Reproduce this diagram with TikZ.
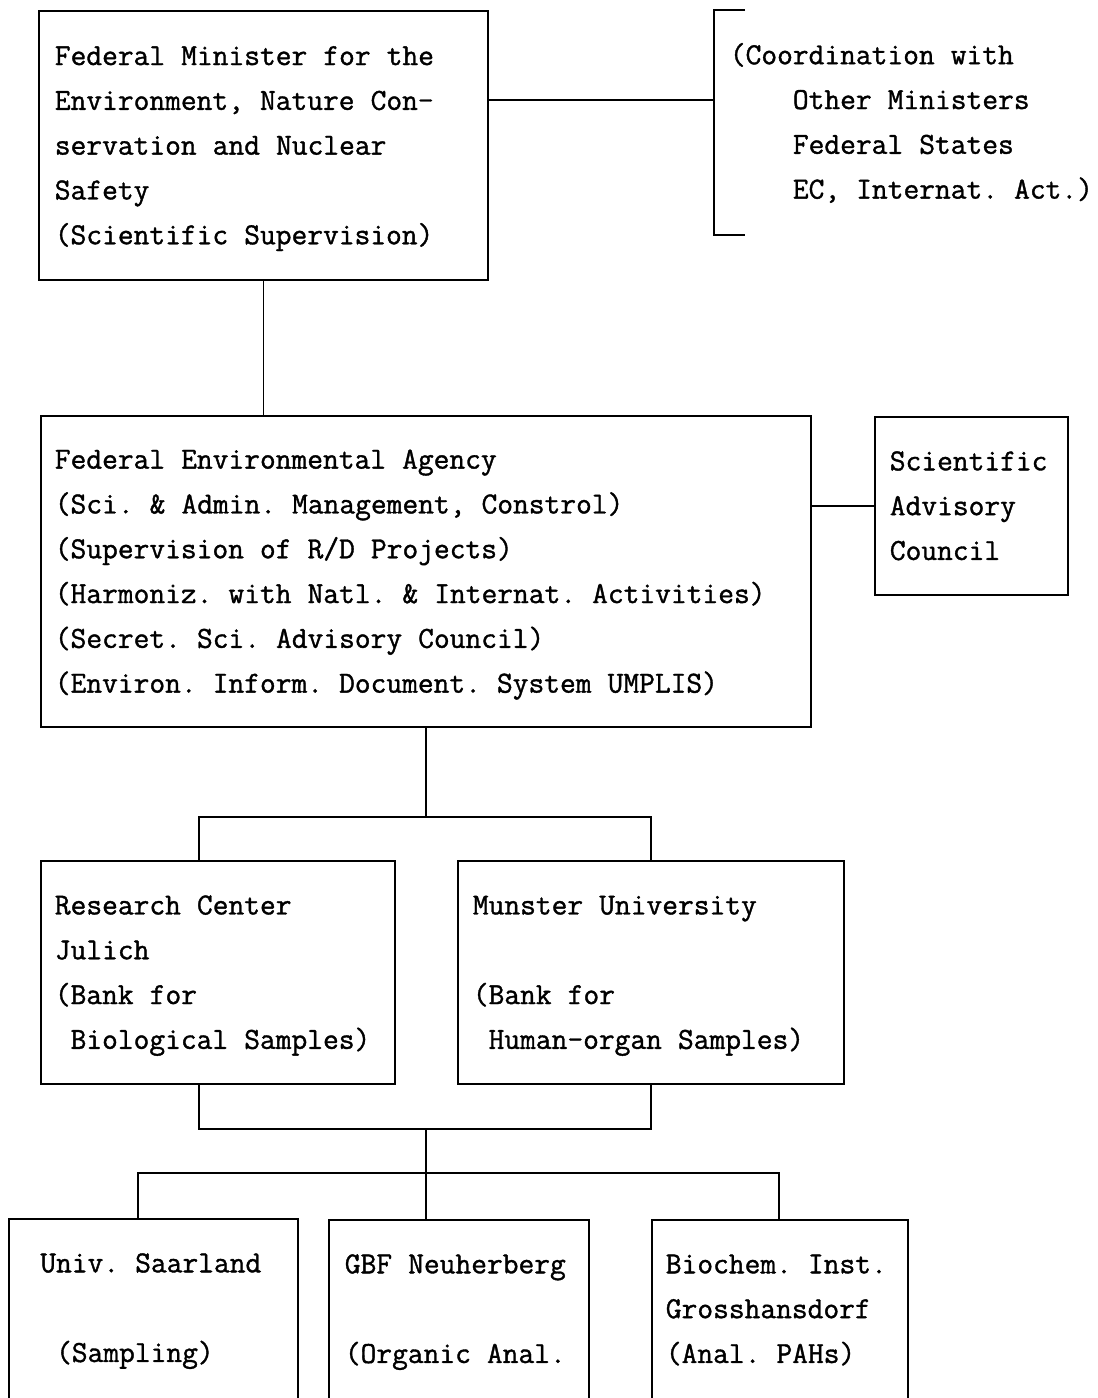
\documentclass[tikz,border=0pt]{standalone}
\usepackage{fontspec}
\newfontfamily\typerfont{Latin Modern Mono}[FakeBold=1.2]
\usetikzlibrary{positioning}
\newcommand{\padch}[1]{\hphantom{#1}}
\newcommand{\typerset}{\typerfont\fontsize{30.6}{44.8}\selectfont\frenchspacing}
\newcommand{\fixspace}{\spaceskip 16.07pt\relax\xspaceskip 16.07pt\relax\rule{0pt}{28pt}}
\newcommand{\fixdepth}{\rule[-9.4pt]{0pt}{9.4pt}}

\begin{document}
\begin{tikzpicture}[
  x=1pt,y=-1pt,
  line width=1.7pt,
  typer/.style={font=\typerset,execute at begin node=\fixspace,execute at end node=\fixdepth},
  orgbox/.style={typer,draw,rectangle,anchor=north west,align=left,inner ysep=0pt},
  openbox/.style={orgbox,draw=none}
]
\useasboundingbox (0,0) rectangle (1098,1398);
\node[orgbox,text width=417pt,inner xsep=16pt,minimum height=269pt] (minister) at (38,10)
  {Federal Minister for the\\Environment, Nature Con-\\servation and Nuclear\\Safety\\(Scientific Supervision)};
\coordinate (brtop) at (714,10);
\coordinate (brbot) at (714,235);
\coordinate (brjoin) at (714,100);
\draw ([xshift=31pt]brtop) -- (brtop) -- (brbot) -- ([xshift=31pt]brbot);
\draw (minister.east |- brjoin) -- (brjoin);
\node[typer,anchor=west,align=left,inner sep=0pt] (coord) at (729,125.5)
  {(Coordination with\\\padch{0000}Other Ministers\\\padch{0000}Federal States\\\padch{0000}EC, Internat. Act.)};

\node[orgbox,text width=742pt,inner xsep=14pt,minimum height=311pt] (agency) at (40,415)
  {Federal Environmental Agency\\(Sci. \& Admin. Management, Constrol)\\(Supervision of R/D Projects)\\(Harmoniz. with Natl. \& Internat. Activities)\\(Secret. Sci. Advisory Council)\\(Environ. Inform. Document. System UMPLIS)};
\node[orgbox,text width=163pt,inner xsep=15pt,minimum height=178pt] (council) at (874,416)
  {Scientific\\Advisory\\Council};
\draw (minister.south) -- (minister.south |- agency.north);
\draw (council.west) -- (council.west -| agency.east);

\node[orgbox,text width=326pt,inner xsep=14pt,minimum height=223pt] (julich) at (40,860)
  {Research Center\\Julich\\(Bank for\\\padch{0}Biological Samples)};
\node[orgbox,text width=356pt,inner xsep=15pt,minimum height=223pt] (munster) at (457,860)
  {Munster University\\\mbox{}\\(Bank for\\\padch{0}Human-organ Samples)};
\coordinate (upL) at (199,817);
\coordinate (loL) at (199,1129);
\coordinate (botL) at (138,1173);
\coordinate (botR) at (779,1173);
\draw (agency.south) -- (agency.south |- upL);
\draw (upL |- julich.north) -- (upL) -- (munster.north |- upL) -- (munster.north);
\draw (loL |- julich.south) -- (loL) -- (munster.south |- loL) -- (munster.south);
\draw (agency.south |- loL) -- (agency.south |- botL);

\node[openbox,text width=226pt,inner xsep=30.5pt,minimum height=176pt] (saarland) at (9,1219)
  {Univ.~Saarland\\\mbox{}\\\padch{0}(Sampling)};
\node[openbox,text width=228pt,inner xsep=15pt,minimum height=176pt] (gbf) at (329,1220)
  {GBF Neuherberg\\\mbox{}\\(Organic Anal.};
\node[openbox,text width=228pt,inner xsep=13pt,minimum height=176pt] (biochem) at (652,1220)
  {Biochem. Inst.\\Grosshansdorf\\(Anal. PAHs)};
\foreach \b in {saarland,gbf,biochem}
  \draw ([yshift=-20pt]\b.south west) -- (\b.north west) -- (\b.north east) -- ([yshift=-20pt]\b.south east);
\draw (botL |- saarland.north) -- (botL) -- (botR) -- (botR |- biochem.north);
\draw (agency.south |- botL) -- (agency.south |- gbf.north);
\end{tikzpicture}
\end{document}
